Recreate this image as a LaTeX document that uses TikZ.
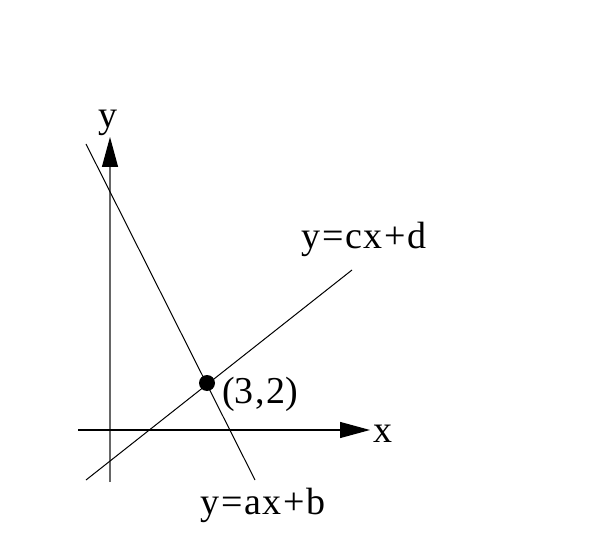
\documentclass[tikz,border=0pt]{standalone}
\usepackage{fontspec}
\setmainfont{Liberation Serif}
\usetikzlibrary{arrows.meta}
\newcommand{\lsp}{\kern1.5pt}
\begin{document}
\begin{tikzpicture}[x=1pt,y=-1pt,
  lbl/.style={font=\fontsize{38}{42}\selectfont, inner sep=0pt, anchor=base},
  axis/.style={line width=1.2pt,-{Triangle[length=30pt,width=16pt,color=black]}},
  graph/.style={line width=1pt}]
\useasboundingbox (0,0) rectangle (592,559);
\coordinate (yb) at (110,482);
\coordinate (yt) at (110,137);
\coordinate (xl) at (78,430);
\coordinate (xr) at (370,430);
\coordinate (l1a) at (86,144);
\coordinate (l1b) at (255,480);
\coordinate (l2a) at (86,480);
\coordinate (l2b) at (352,270);
\draw[axis, draw=black!60] (yb) -- (yt);
\draw[axis] (xl) -- (xr);
\draw[graph] (l1a) -- (l1b);
\draw[graph] (l2a) -- (l2b);
\node[circle, fill=black, minimum size=16pt, inner sep=0pt] (pt) at (207,383) {};
\node[lbl] (ylab) at (108,128) {y};
\node[lbl] (xlab) at (383,442) {x};
\node[lbl] (ptlab) at (260,403) {(3\lsp,\lsp2)};
\node[lbl] (l1lab) at (263,514) {y\lsp=\lsp a\lsp x\lsp+\lsp b};
\node[lbl] (l2lab) at (364,248) {y\lsp=\lsp c\lsp x\lsp+\lsp d};
\end{tikzpicture}
\end{document}
